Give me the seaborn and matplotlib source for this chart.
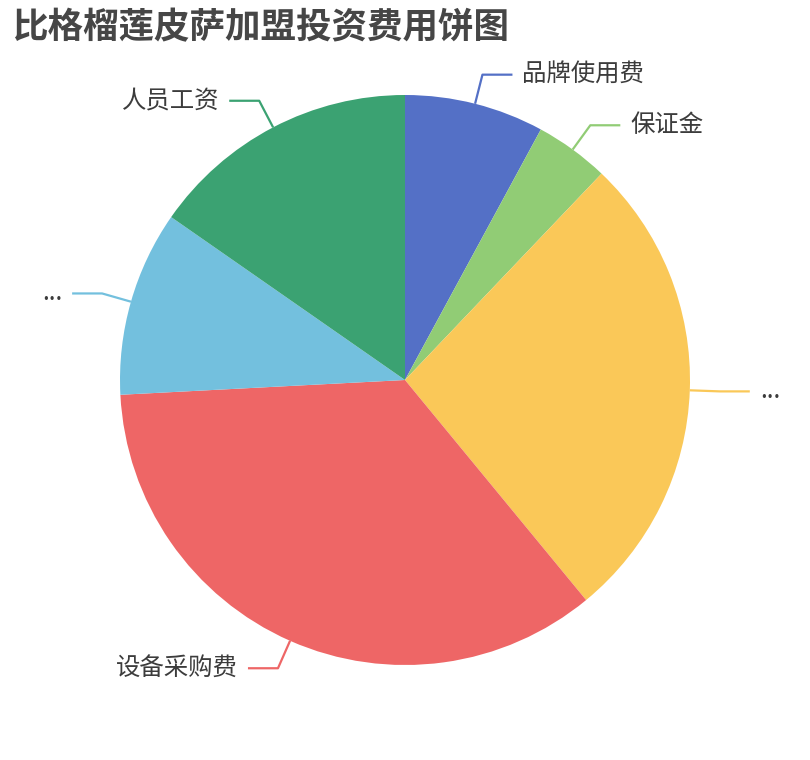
import numpy as np
import matplotlib
matplotlib.use("Agg")
import matplotlib.pyplot as plt
import seaborn as sns

# ---- data ----
labels = ['品牌使用费', '保证金', '...', '设备采购费', '...', '人员工资']
values = [7.9, 4.2, 26.9, 35.1, 10.5, 15.3]
colors_hex = ['#5470c6', '#91cc75', '#fac858', '#ee6666', '#73c0de', '#3ba272']
title = '比格榴莲皮萨加盟投资费用饼图'

sns.set_theme(style="white")
plt.rcParams['font.family'] = ['Noto Sans CJK SC', 'DejaVu Sans']
palette = sns.color_palette(colors_hex)

W, H = 810, 760
fig = plt.figure(figsize=(W / 100, H / 100), dpi=100)
ax = fig.add_axes([0, 0, 1, 1])

cx, cy, R = 405, H - 380, 285
wedges, _ = ax.pie(values, colors=palette, startangle=90, counterclock=False,
                   center=(cx, cy), radius=R, frame=True,
                   wedgeprops=dict(linewidth=0))
ax.set_xlim(0, W)
ax.set_ylim(0, H)
ax.set_aspect('equal')
ax.axis('off')

text_color = '#3c3c3c'
for w, lab, col in zip(wedges, labels, palette):
    mid = np.deg2rad((w.theta1 + w.theta2) / 2)
    x0, y0 = cx + R * np.cos(mid), cy + R * np.sin(mid)
    x1, y1 = cx + (R + 30) * np.cos(mid), cy + (R + 30) * np.sin(mid)
    side = 1 if np.cos(mid) >= 0 else -1
    x2 = x1 + side * 30
    ax.plot([x0, x1, x2], [y0, y1, y1], color=col, lw=1.6, solid_capstyle='butt')
    ax.text(x2 + side * 10, y1, lab, ha='left' if side > 0 else 'right',
            va='center', fontsize=17.6, color=text_color)

fig.text(12 / W, 1 - 28 / H, title, fontsize=25.6, fontweight='bold',
         color='#464646', ha='left', va='center')

fig.savefig('out.png', dpi=100, facecolor='white')
